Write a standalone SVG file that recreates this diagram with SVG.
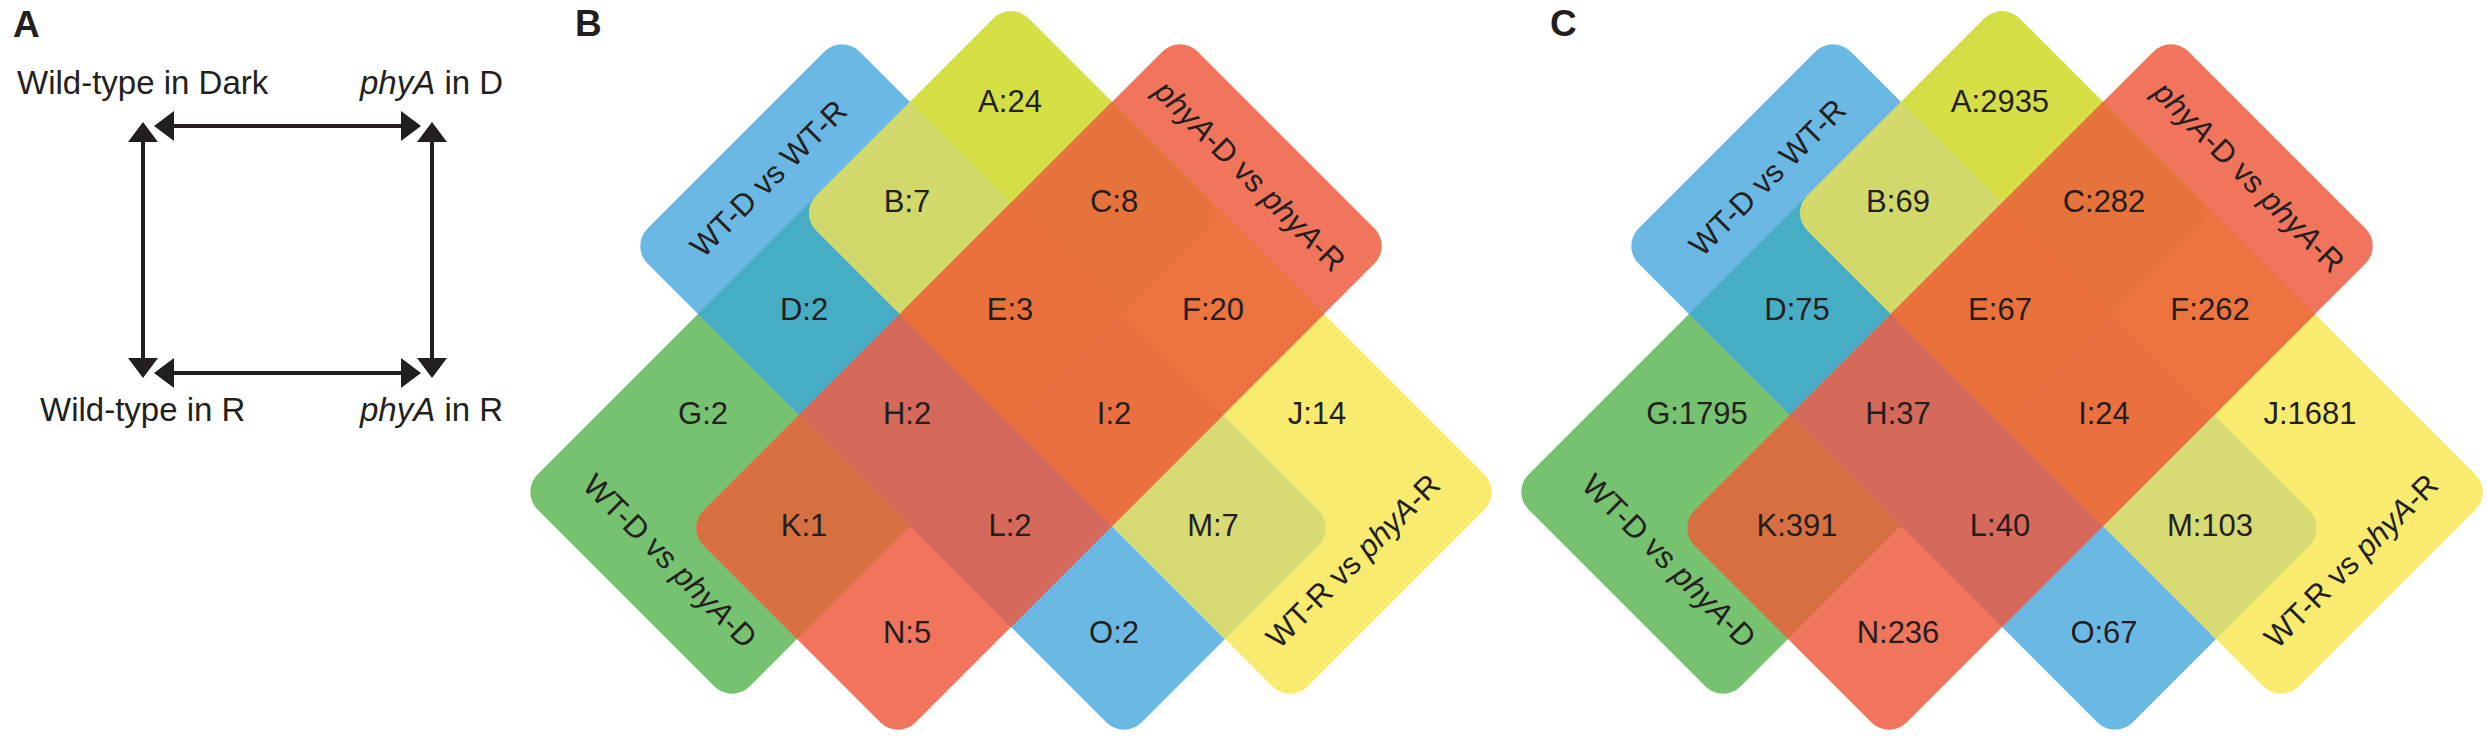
<svg xmlns="http://www.w3.org/2000/svg" xmlns:xlink="http://www.w3.org/1999/xlink" width="2487" height="740" viewBox="0 0 2487 740">
<style>
text{font-family:"Liberation Sans",Arial,Helvetica,sans-serif;fill:#231F20}
.pl{font-size:37px;font-weight:bold}
.ta{font-size:33px}
.n{font-size:31px;text-anchor:middle}
.s{font-size:31px;text-anchor:middle}
.i{font-style:italic}
.ar{stroke:#231F20;stroke-width:4;fill:none;marker-start:url(#ah);marker-end:url(#ah)}
</style>
<defs>
<marker id="ah" viewBox="0 0 20 30" refX="14" refY="15" markerWidth="20" markerHeight="30" markerUnits="userSpaceOnUse" orient="auto-start-reverse"><path d="M0,0L20,15L0,30z" fill="#231F20"/></marker>
<rect id="rB" x="876" y="384" width="988" height="424" rx="35"/>
<rect id="rY" x="1012" y="586" width="982" height="424" rx="35"/>
<rect id="rG" x="1012" y="28" width="424" height="982" rx="35"/>
<rect id="rR" x="1214" y="158" width="424" height="988" rx="35"/>
<clipPath id="cB"><use href="#rB"/></clipPath>
<clipPath id="cY"><use href="#rY"/></clipPath>
<clipPath id="cG"><use href="#rG"/></clipPath>
<clipPath id="cR"><use href="#rR"/></clipPath>
<g id="venn">
<use href="#rG" fill="#77C270"/>
<use href="#rB" fill="#6CB8E5"/>
<use href="#rY" fill="#F8EB6F"/>
<use href="#rR" fill="#F1745C"/>
<g clip-path="url(#cB)"><use href="#rG" fill="#46ADC4"/></g>
<g clip-path="url(#cY)"><use href="#rG" fill="#D5DF45"/></g>
<g clip-path="url(#cY)"><use href="#rB" fill="#D8DB74"/></g>
<g clip-path="url(#cR)"><use href="#rG" fill="#D77040"/></g>
<g clip-path="url(#cR)"><use href="#rB" fill="#D5695B"/></g>
<g clip-path="url(#cR)"><use href="#rY" fill="#EE743F"/></g>
<g clip-path="url(#cB)"><g clip-path="url(#cY)"><use href="#rG" fill="#D2D96B"/></g></g>
<g clip-path="url(#cB)"><g clip-path="url(#cR)"><use href="#rG" fill="#D5695A"/></g></g>
<g clip-path="url(#cG)"><g clip-path="url(#cR)"><use href="#rY" fill="#E7733C"/></g></g>
<g clip-path="url(#cB)"><g clip-path="url(#cR)"><use href="#rY" fill="#EA713F"/></g></g>
<g clip-path="url(#cB)"><g clip-path="url(#cR)"><g clip-path="url(#cG)"><use href="#rY" fill="#EA703C"/></g></g></g>
</g>
</defs>
<rect width="2487" height="740" fill="#FFFFFF"/>

<g id="panelA">
<text class="pl" x="13" y="37">A</text>
<g id="nodeWTD"><text class="ta" x="17" y="94">Wild-type in Dark</text></g>
<g id="nodePhyAD"><text class="ta" x="360" y="94"><tspan class="i">phyA</tspan> in D</text></g>
<g id="nodeWTR"><text class="ta" x="40" y="421">Wild-type in R</text></g>
<g id="nodePhyAR"><text class="ta" x="360" y="421"><tspan class="i">phyA</tspan> in R</text></g>
<g id="connectors">
<line class="ar" x1="160" y1="126" x2="415" y2="126"/>
<line class="ar" x1="160" y1="373" x2="415" y2="373"/>
<line class="ar" x1="143" y1="128" x2="143" y2="372"/>
<line class="ar" x1="432" y1="128" x2="432" y2="372"/>
</g>
</g>

<g id="panelB">
<text class="pl" x="575" y="36">B</text>
<use id="vennB" href="#venn" transform="matrix(0.5 0.5 0.5 -0.5 0 0)"/>
<g id="setsB">
<text class="s" transform="translate(776,186) rotate(-45)">WT-D vs WT-R</text>
<text class="s" transform="translate(1242.5,183.5) rotate(45)"><tspan class="i">phyA</tspan>-D vs <tspan class="i">phyA</tspan>-R</text>
<text class="s" transform="translate(662.5,568.5) rotate(45)">WT-D vs <tspan class="i">phyA</tspan>-D</text>
<text class="s" transform="translate(1360.5,568.5) rotate(-45)">WT-R vs <tspan class="i">phyA</tspan>-R</text>
</g>
<g id="countsB">
<text class="n" x="1010" y="112">A:24</text>
<text class="n" x="907" y="212">B:7</text>
<text class="n" x="1114" y="212">C:8</text>
<text class="n" x="804" y="320">D:2</text>
<text class="n" x="1010" y="320">E:3</text>
<text class="n" x="1213" y="320">F:20</text>
<text class="n" x="703" y="424">G:2</text>
<text class="n" x="907" y="424">H:2</text>
<text class="n" x="1114" y="424">I:2</text>
<text class="n" x="1317" y="424">J:14</text>
<text class="n" x="804" y="536">K:1</text>
<text class="n" x="1010" y="536">L:2</text>
<text class="n" x="1213" y="536">M:7</text>
<text class="n" x="907" y="643">N:5</text>
<text class="n" x="1114" y="643">O:2</text>
</g>
</g>

<g id="panelC">
<text class="pl" x="1550" y="36">C</text>
<use id="vennC" href="#venn" transform="translate(991,0) matrix(0.5 0.5 0.5 -0.5 0 0)"/>
<g id="setsC">
<text class="s" transform="translate(1775,185) rotate(-45)">WT-D vs WT-R</text>
<text class="s" transform="translate(2241.5,184.5) rotate(45)"><tspan class="i">phyA</tspan>-D vs <tspan class="i">phyA</tspan>-R</text>
<text class="s" transform="translate(1661.5,568.5) rotate(45)">WT-D vs <tspan class="i">phyA</tspan>-D</text>
<text class="s" transform="translate(2358.5,568.5) rotate(-45)">WT-R vs <tspan class="i">phyA</tspan>-R</text>
</g>
<g id="countsC">
<text class="n" x="2000" y="112">A:2935</text>
<text class="n" x="1898" y="212">B:69</text>
<text class="n" x="2104" y="212">C:282</text>
<text class="n" x="1797" y="320">D:75</text>
<text class="n" x="2000" y="320">E:67</text>
<text class="n" x="2210" y="320">F:262</text>
<text class="n" x="1697" y="424">G:1795</text>
<text class="n" x="1898" y="424">H:37</text>
<text class="n" x="2104" y="424">I:24</text>
<text class="n" x="2310" y="424">J:1681</text>
<text class="n" x="1797" y="536">K:391</text>
<text class="n" x="2000" y="536">L:40</text>
<text class="n" x="2210" y="536">M:103</text>
<text class="n" x="1898" y="643">N:236</text>
<text class="n" x="2104" y="643">O:67</text>
</g>
</g>
</svg>
